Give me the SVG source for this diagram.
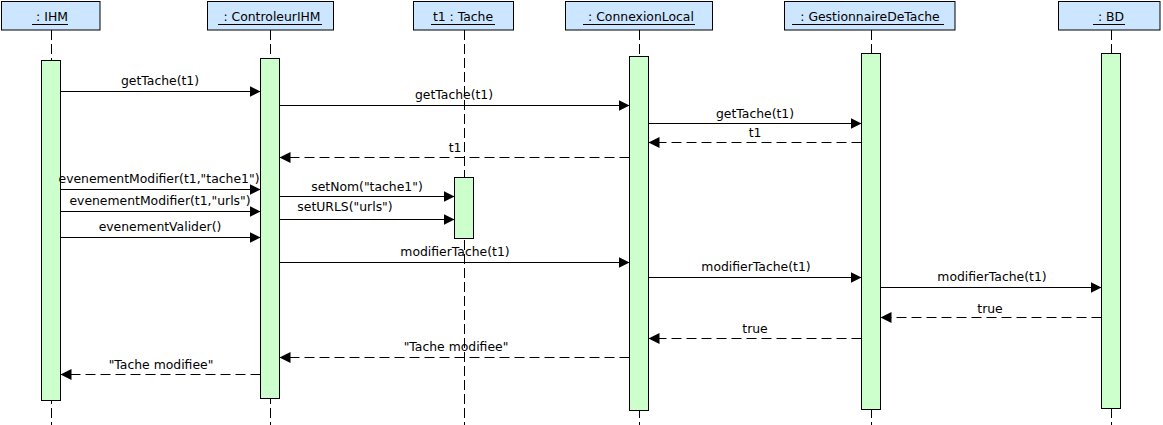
<svg xmlns="http://www.w3.org/2000/svg" width="1163" height="425" viewBox="0 0 1163 425">
<style>
text{font-family:"DejaVu Sans","Liberation Sans",sans-serif;font-size:12.4px;fill:#000;text-anchor:middle}
.hdr{fill:#cce6ff;stroke:#000;stroke-width:1}
.act{fill:#ccffcc;stroke:#000;stroke-width:1}
.life{stroke:#000;stroke-width:1;stroke-dasharray:10,4;fill:none}
.ul{stroke:#000;stroke-width:1}
.msg{stroke:#000;stroke-width:1;fill:none;marker-end:url(#ah)}
.ret{stroke:#000;stroke-width:1;fill:none;stroke-dasharray:10,5;marker-end:url(#ah)}
</style>
<defs>
<marker id="ah" markerUnits="userSpaceOnUse" markerWidth="12" markerHeight="12" refX="11" refY="5.5" orient="auto">
<path d="M0,0 L11,5.5 L0,11 z" fill="#000" stroke="none"/>
</marker>
</defs>
<rect width="1163" height="425" fill="#fff"/>
<g id="IHM">
<line class="life" x1="51.5" y1="30" x2="51.5" y2="425"/>
<rect class="hdr" x="1.5" y="1.5" width="98.5" height="28.5"/>
<text x="52" y="21">: IHM</text>
<line class="ul" x1="32" y1="24.5" x2="68" y2="24.5"/>
<rect class="act" x="41.5" y="60.5" width="19" height="340"/>
</g>
<g id="ControleurIHM">
<line class="life" x1="270.5" y1="30" x2="270.5" y2="425"/>
<rect class="hdr" x="207.5" y="1.5" width="126" height="28.5"/>
<text x="272" y="21">: ControleurIHM</text>
<line class="ul" x1="218" y1="24.5" x2="322" y2="24.5"/>
<rect class="act" x="260.5" y="58.5" width="19" height="340"/>
</g>
<g id="Tache">
<line class="life" x1="464.5" y1="30" x2="464.5" y2="425"/>
<rect class="hdr" x="413.5" y="1.5" width="100" height="28.5"/>
<text x="463" y="21">t1 : Tache</text>
<line class="ul" x1="431" y1="24.5" x2="495" y2="24.5"/>
<rect class="act" x="454.5" y="177.5" width="19" height="61"/>
</g>
<g id="ConnexionLocal">
<line class="life" x1="639.5" y1="30" x2="639.5" y2="425"/>
<rect class="hdr" x="565.5" y="1.5" width="147" height="28.5"/>
<text x="641" y="21">: ConnexionLocal</text>
<line class="ul" x1="583" y1="24.5" x2="695" y2="24.5"/>
<rect class="act" x="629.5" y="56.5" width="19" height="354"/>
</g>
<g id="GestionnaireDeTache">
<line class="life" x1="871.5" y1="30" x2="871.5" y2="425"/>
<rect class="hdr" x="784.5" y="1.5" width="170.5" height="28.5"/>
<text x="870" y="21">: GestionnaireDeTache</text>
<line class="ul" x1="792" y1="24.5" x2="944" y2="24.5"/>
<rect class="act" x="861.5" y="53.5" width="19" height="356"/>
</g>
<g id="BD">
<line class="life" x1="1111.5" y1="30" x2="1111.5" y2="425"/>
<rect class="hdr" x="1058.5" y="1.5" width="101.5" height="28.5"/>
<text x="1111" y="21">: BD</text>
<line class="ul" x1="1093" y1="24.5" x2="1125" y2="24.5"/>
<rect class="act" x="1101.5" y="53.5" width="19" height="355"/>
</g>
<g id="connectors">
<line class="msg" x1="60.5" y1="91.5" x2="260.5" y2="91.5"/>
<text x="160" y="85">getTache(t1)</text>
<line class="msg" x1="279.5" y1="105.5" x2="629.5" y2="105.5"/>
<text x="454" y="99">getTache(t1)</text>
<line class="msg" x1="648.5" y1="123.5" x2="861.5" y2="123.5"/>
<text x="755" y="118">getTache(t1)</text>
<line class="ret" x1="861.5" y1="142.5" x2="648.5" y2="142.5"/>
<text x="755" y="136.5">t1</text>
<line class="ret" x1="629.5" y1="157.5" x2="279.5" y2="157.5"/>
<text x="455" y="151.5">t1</text>
<line class="msg" x1="60.5" y1="189.5" x2="260.5" y2="189.5"/>
<text x="159" y="183">evenementModifier(t1,"tache1")</text>
<line class="msg" x1="279.5" y1="196.5" x2="454.5" y2="196.5"/>
<text x="367" y="191">setNom("tache1")</text>
<line class="msg" x1="60.5" y1="211.5" x2="260.5" y2="211.5"/>
<text x="160" y="205">evenementModifier(t1,"urls")</text>
<line class="msg" x1="279.5" y1="219.5" x2="454.5" y2="219.5"/>
<text x="345" y="211">setURLS("urls")</text>
<line class="msg" x1="60.5" y1="237.5" x2="260.5" y2="237.5"/>
<text x="160" y="231">evenementValider()</text>
<line class="msg" x1="279.5" y1="262.5" x2="629.5" y2="262.5"/>
<text x="455" y="256">modifierTache(t1)</text>
<line class="msg" x1="648.5" y1="277.5" x2="861.5" y2="277.5"/>
<text x="756" y="270.5">modifierTache(t1)</text>
<line class="msg" x1="880.5" y1="287.5" x2="1101.5" y2="287.5"/>
<text x="992" y="281">modifierTache(t1)</text>
<line class="ret" x1="1101.5" y1="317.5" x2="880.5" y2="317.5"/>
<text x="990" y="312.5">true</text>
<line class="ret" x1="861.5" y1="338.5" x2="648.5" y2="338.5"/>
<text x="755" y="332.5">true</text>
<line class="ret" x1="629.5" y1="357.5" x2="279.5" y2="357.5"/>
<text x="456" y="351">"Tache modifiee"</text>
<line class="ret" x1="260.5" y1="374.5" x2="60.5" y2="374.5"/>
<text x="161" y="368.5">"Tache modifiee"</text>
</g>
</svg>
